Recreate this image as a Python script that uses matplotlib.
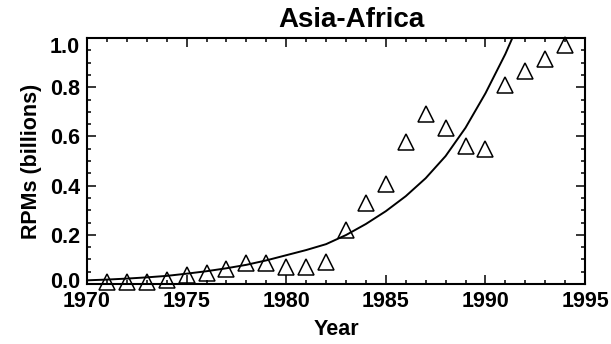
import matplotlib
matplotlib.use('Agg')
import matplotlib.pyplot as plt
import matplotlib.transforms as mtransforms
from matplotlib.ticker import MultipleLocator

# observed RPMs (billions), Asia-Africa
years = [1971, 1972, 1973, 1974, 1975, 1976, 1977, 1978, 1979, 1980, 1981, 1982,
         1983, 1984, 1985, 1986, 1987, 1988, 1989, 1990, 1991, 1992, 1993, 1994]
rpms = [0.010, 0.010, 0.010, 0.016, 0.037, 0.046, 0.060, 0.084, 0.084, 0.070, 0.068, 0.089,
        0.220, 0.330, 0.405, 0.577, 0.690, 0.633, 0.560, 0.547, 0.808, 0.864, 0.914, 0.971]

# fitted trend
fit_years = [1970, 1971, 1972, 1973, 1974, 1975, 1976, 1977, 1978, 1979, 1980, 1981,
             1982, 1983, 1984, 1985, 1986, 1987, 1988, 1989, 1990, 1991, 1992]
fit_rpms = [0.015, 0.018, 0.022, 0.027, 0.033, 0.042, 0.052, 0.064, 0.078, 0.096, 0.117, 0.138,
            0.162, 0.199, 0.244, 0.296, 0.357, 0.430, 0.520, 0.635, 0.775, 0.935, 1.12]

plt.rcParams['font.family'] = ['Liberation Sans', 'DejaVu Sans']
plt.rcParams['font.weight'] = 'bold'
plt.rcParams['axes.labelweight'] = 'bold'

fig = plt.figure(figsize=(6.11, 3.44), dpi=100)
ax = fig.add_axes([0.1424, 0.1744, 0.8151, 0.7151])

ax.plot(fit_years, fit_rpms, color='k', linewidth=1.4)
ax.plot(years, rpms, linestyle='none', marker='^', markersize=11,
        markerfacecolor='none', markeredgecolor='k', markeredgewidth=1.1, clip_on=False)

ax.set_xlim(1970, 1995)
ax.set_ylim(0.0, 1.0)
ax.xaxis.set_major_locator(MultipleLocator(5))
ax.xaxis.set_minor_locator(MultipleLocator(1))
ax.set_yticks([0.0, 0.2, 0.4, 0.6, 0.8, 1.0])
ax.set_yticklabels(['0.0', '0.2', '0.4', '0.6', '0.8', '1.0'])
ax.yaxis.set_minor_locator(MultipleLocator(0.05))
ax.tick_params(which='both', direction='in', top=True, right=True, labelsize=15.5, width=1.1)
ax.tick_params(which='major', length=6.5, pad=5)
ax.tick_params(which='minor', length=3)
for s in ax.spines.values():
    s.set_linewidth(1.5)

# end labels sit inside the axis range, as in the original
ylabs = ax.get_yticklabels()
ylabs[0].set_transform(ylabs[0].get_transform() + mtransforms.ScaledTranslation(0, 0.04, fig.dpi_scale_trans))
ylabs[-1].set_transform(ylabs[-1].get_transform() + mtransforms.ScaledTranslation(0, -0.07, fig.dpi_scale_trans))

ax.set_title('Asia-Africa', fontsize=20, fontweight='bold', pad=8, x=0.53)
ax.set_xlabel('Year', fontsize=15.5, fontweight='bold', labelpad=5)
ax.set_ylabel('RPMs (billions)', fontsize=15.5, fontweight='bold', labelpad=6)

fig.savefig('out.png', dpi=100)
